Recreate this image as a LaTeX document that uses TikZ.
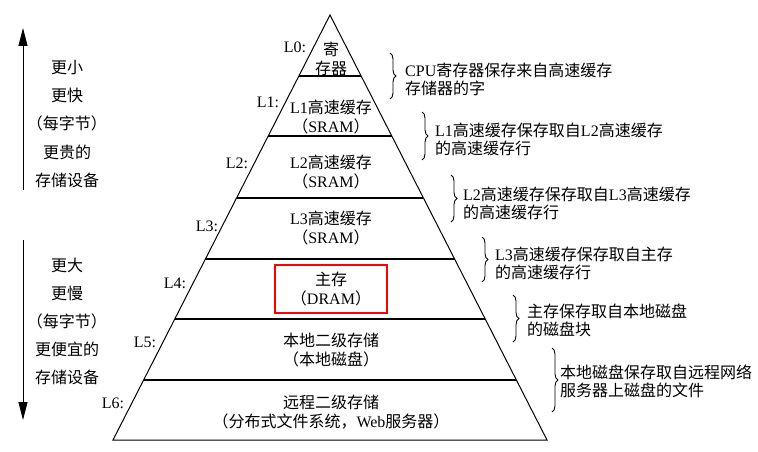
\documentclass[tikz,border=0pt]{standalone}
\usepackage{fontspec}
\setmainfont{Liberation Serif}
\newfontfamily\cjk{Noto Sans CJK SC}
\newcommand\zh[1]{{\cjk #1}}
\usetikzlibrary{arrows.meta,decorations.pathreplacing,calc}
\begin{document}
\begin{tikzpicture}[x=1pt,y=-1pt,
  txt/.style={font=\fontsize{16}{19}\selectfont, inner sep=0pt, align=center},
  desc/.style={font=\fontsize{16}{18}\selectfont, inner sep=0pt, align=left, anchor=west},
  lvl/.style={font=\fontsize{16}{18}\selectfont, inner sep=0pt},
  side/.style={font=\cjk\fontsize{16}{18}\selectfont, inner sep=0pt},
  layer/.style={line width=1.1pt},
  brc/.style={decorate, decoration={brace, amplitude=6pt}, line width=0.9pt},
  arr/.style={line width=1pt, -{Triangle[length=18pt,width=9pt]}}]
\useasboundingbox (0,0) rectangle (758,452);
% pyramid
\coordinate (apex) at (330,15);
\coordinate (bl) at (113,440);
\coordinate (br) at (547,440);
\draw[line width=1pt, line join=miter] (apex) -- (bl) -- (br) -- cycle;
\foreach \f in {0.1435,0.2847,0.4306,0.5741,0.7153,0.8588}
  \draw[layer] ($(apex)!\f!(bl)$) -- ($(apex)!\f!(br)$);
% level texts
\node[txt] (t0) at (331,58.5) {\zh{寄}\\\zh{存器}};
\node[txt] (t1) at (331,117.5) {L1\zh{高速缓存}\\\zh{（}SRAM\zh{）}};
\node[txt] (t2) at (331,172) {L2\zh{高速缓存}\\\zh{（}SRAM\zh{）}};
\node[txt] (t3) at (331,228) {L3\zh{高速缓存}\\\zh{（}SRAM\zh{）}};
\node[txt, draw=red, line width=1.5pt, minimum width=112pt, minimum height=48pt] (t4) at (331,289) {\zh{主存}\\\zh{（}DRAM\zh{）}};
\node[txt] (t5) at (331,350) {\zh{本地二级存储}\\\zh{（本地磁盘）}};
\node[txt] (t6) at (331,412.5) {\zh{远程二级存储}\\\zh{（分布式文件系统，}Web\zh{服务器）}};
% level labels
\node[lvl] (l0) at (295,47) {L0:};
\node[lvl] (l1) at (268,102) {L1:};
\node[lvl] (l2) at (237,163) {L2:};
\node[lvl] (l3) at (207,226) {L3:};
\node[lvl] (l4) at (175,283) {L4:};
\node[lvl] (l5) at (145,342) {L5:};
\node[lvl] (l6) at (113,403) {L6:};
% descriptions
\node[desc] (d0) at (405,79) {CPU\zh{寄存器保存来自高速缓存}\\\zh{存储器的字}};
\node[desc] (d1) at (435,139) {L1\zh{高速缓存保存取自}L2\zh{高速缓存}\\\zh{的高速缓存行}};
\node[desc] (d2) at (463,203) {L2\zh{高速缓存保存取自}L3\zh{高速缓存}\\\zh{的高速缓存行}};
\node[desc] (d3) at (495,263.5) {L3\zh{高速缓存保存取自主存}\\\zh{的高速缓存行}};
\node[desc] (d4) at (527,320) {\zh{主存保存取自本地磁盘}\\\zh{的磁盘块}};
\node[desc] (d5) at (560,381) {\zh{本地磁盘保存取自远程网络}\\\zh{服务器上磁盘的文件}};
% braces
\coordinate (b0a) at (390,53);  \coordinate (b0b) at (390,99);
\coordinate (b1a) at (422,112); \coordinate (b1b) at (422,160);
\coordinate (b2a) at (451,175); \coordinate (b2b) at (451,222);
\coordinate (b3a) at (482,237); \coordinate (b3b) at (482,282);
\coordinate (b4a) at (513,295); \coordinate (b4b) at (513,342);
\coordinate (b5a) at (552,348); \coordinate (b5b) at (552,412);
\draw[brc] (b0a) -- (b0b);
\draw[brc] (b1a) -- (b1b);
\draw[brc] (b2a) -- (b2b);
\draw[brc] (b3a) -- (b3b);
\draw[brc] (b4a) -- (b4b);
\draw[brc] (b5a) -- (b5b);
% side arrows
\coordinate (upS) at (23,190); \coordinate (upE) at (23,28);
\coordinate (dnS) at (23,240); \coordinate (dnE) at (23,420);
\draw[arr] (upS) -- (upE);
\draw[arr] (dnS) -- (dnE);
% side texts
\node[side] (s1) at (67,68) {更小};
\node[side] (s2) at (67,95) {更快};
\node[side] (s3) at (67,123) {（每字节）};
\node[side] (s4) at (67,152) {更贵的};
\node[side] (s5) at (67,180) {存储设备};
\node[side] (s6) at (67,265) {更大};
\node[side] (s7) at (67,293) {更慢};
\node[side] (s8) at (67,321) {（每字节）};
\node[side] (s9) at (67,349) {更便宜的};
\node[side] (s10) at (67,377) {存储设备};
\end{tikzpicture}
\end{document}
